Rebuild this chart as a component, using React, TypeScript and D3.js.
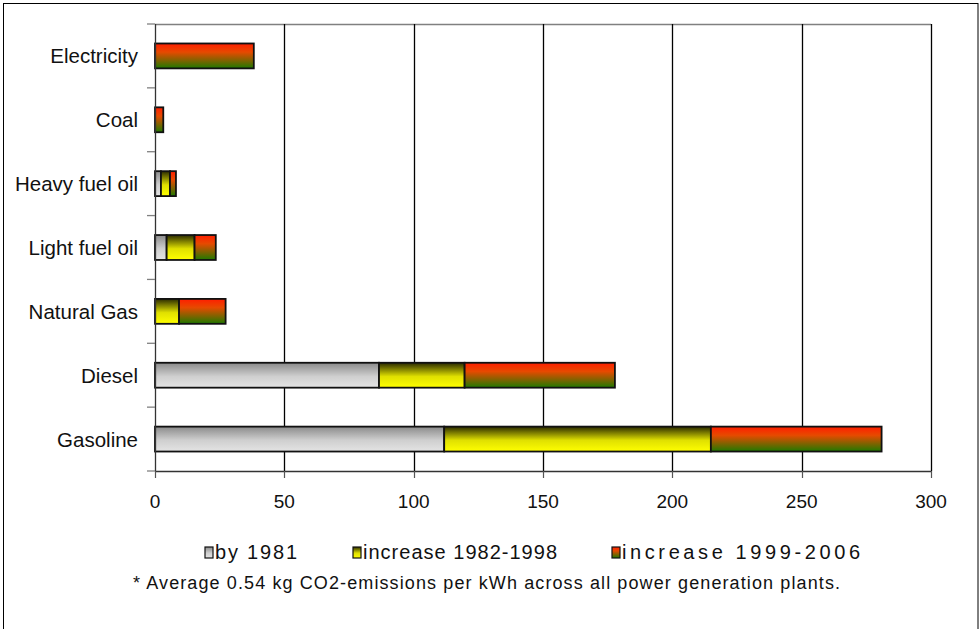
import React from "react";
import * as d3 from "d3";

const categories = [
  "Electricity",
  "Coal",
  "Heavy fuel oil",
  "Light fuel oil",
  "Natural Gas",
  "Diesel",
  "Gasoline",
];
const seriesNames = ["by 1981", "increase 1982-1998", "increase 1999-2006"];
const by1981 = [0, 0, 2.3, 4.5, 0, 86.6, 111.8];
const increase1982to1998 = [0, 0, 3.5, 10.8, 9.3, 33.1, 103.1];
const increase1999to2006 = [38.2, 3.2, 2.3, 8.2, 18, 58.1, 66];
const xTicks = [0, 50, 100, 150, 200, 250, 300];
const footnote =
  "* Average 0.54 kg CO2-emissions per kWh across all power generation plants.";

const W = 979;
const H = 629;
const left = 155;
const right = 931;
const top = 24;
const bottom = 471;
const font = "'Liberation Sans', Arial, sans-serif";

const gradients = [
  { id: "g-gray", stops: [["0%", "#8a8a8a"], ["55%", "#cfcfcf"], ["100%", "#e4e4e4"]] },
  { id: "g-yellow", stops: [["0%", "#2a2a00"], ["55%", "#e0e000"], ["100%", "#ffff00"]] },
  { id: "g-redgreen", stops: [["0%", "#ff1e00"], ["35%", "#e64a00"], ["100%", "#1e7a00"]] },
];

// legend entry layout: swatch x, text x, text run length
const legendLayout = [
  { sx: 205, tx: 215, len: 82 },
  { sx: 353, tx: 363, len: 194 },
  { sx: 612, tx: 622, len: 238 },
];

export default function App() {
  const x = d3.scaleLinear().domain([0, 300]).range([left, right]);
  const y = d3
    .scaleBand<string>()
    .domain(categories)
    .range([top, bottom])
    .paddingInner(0.61)
    .paddingOuter(0.305);

  const table = categories.map((c, i) => ({
    category: c,
    s0: by1981[i],
    s1: increase1982to1998[i],
    s2: increase1999to2006[i],
  }));
  const stacked = d3.stack<any>().keys(["s0", "s1", "s2"])(table);

  const step = (bottom - top) / categories.length;
  const boundaries = d3.range(categories.length + 1).map((i) => top + i * step);

  return (
    <svg width={W} height={H} style={{ display: "block", position: "absolute", left: 0, top: 0 }}>
      <defs>
        {gradients.map((g) => (
          <linearGradient key={g.id} id={g.id} x1="0" y1="0" x2="0" y2="1">
            {g.stops.map(([o, c]) => (
              <stop key={o} offset={o} stopColor={c} />
            ))}
          </linearGradient>
        ))}
      </defs>
      <rect x={0} y={0} width={W} height={H} fill="#fff" />
      <rect x={3.5} y={3.5} width={974.5} height={630} fill="none" stroke="#000" strokeWidth={1} />

      {/* plot frame top edge */}
      <line x1={left} x2={right} y1={top + 0.5} y2={top + 0.5} stroke="#808080" strokeWidth={1.5} />

      {/* vertical gridlines */}
      {xTicks.slice(1).map((t) => (
        <line
          key={t}
          x1={Math.round(x(t)) + 0.5}
          x2={Math.round(x(t)) + 0.5}
          y1={top}
          y2={bottom}
          stroke="#000"
          strokeWidth={1.3}
        />
      ))}

      {/* bars */}
      {stacked.map((layer, li) => (
        <g key={li} fill={`url(#${gradients[li].id})`}>
          {layer.map((d, i) => {
            const w = x(d[1]) - x(d[0]);
            if (w <= 0) return null;
            return (
              <rect
                key={i}
                x={x(d[0])}
                y={y(categories[i])!}
                width={w}
                height={y.bandwidth()}
                stroke="#111"
                strokeWidth={1.8}
              />
            );
          })}
        </g>
      ))}

      {/* y axis */}
      <line x1={left + 0.5} x2={left + 0.5} y1={top} y2={bottom} stroke="#333" strokeWidth={1.3} />
      {boundaries.map((b, i) => (
        <line key={i} x1={147} x2={left} y1={b} y2={b} stroke="#808080" strokeWidth={1.3} />
      ))}
      {categories.map((c) => (
        <text
          key={c}
          x={138}
          y={y(c)! + y.bandwidth() / 2}
          textAnchor="end"
          dominantBaseline="central"
          fontFamily={font}
          fontSize={20.5}
          fill="#111"
        >
          {c}
        </text>
      ))}

      {/* x axis */}
      <line x1={left} x2={right} y1={bottom + 0.5} y2={bottom + 0.5} stroke="#333" strokeWidth={1.3} />
      {xTicks.map((t) => (
        <g key={t}>
          <line
            x1={Math.round(x(t)) + 0.5}
            x2={Math.round(x(t)) + 0.5}
            y1={bottom}
            y2={bottom + 7}
            stroke="#555"
            strokeWidth={1.2}
          />
          <text
            x={x(t)}
            y={508}
            textAnchor="middle"
            fontFamily={font}
            fontSize={19}
            fill="#111"
          >
            {t}
          </text>
        </g>
      ))}

      {/* legend */}
      {seriesNames.map((name, i) => (
        <g key={name}>
          <rect
            x={legendLayout[i].sx}
            y={547}
            width={8}
            height={11}
            fill={`url(#${gradients[i].id})`}
            stroke="#111"
            strokeWidth={1.2}
          />
          <text
            x={legendLayout[i].tx}
            y={559}
            fontFamily={font}
            fontSize={20}
            textLength={legendLayout[i].len}
            lengthAdjust="spacing"
            fill="#111"
          >
            {name}
          </text>
        </g>
      ))}

      {/* footnote */}
      <text
        x={133}
        y={589}
        fontFamily={font}
        fontSize={18}
        textLength={707}
        lengthAdjust="spacing"
        fill="#111"
      >
        {footnote}
      </text>
    </svg>
  );
}
